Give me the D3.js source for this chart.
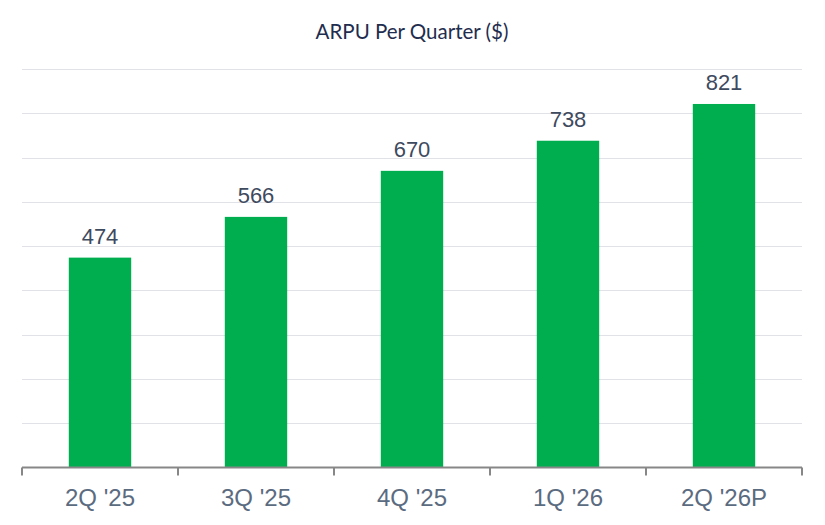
<!DOCTYPE html>
<html>
<head>
<meta charset="utf-8">
<script src="https://cdn.jsdelivr.net/npm/d3@7"></script>
<style>
  html, body { margin: 0; padding: 0; background: #fff; }
  svg { display: block; }
</style>
</head>
<body>
<svg id="chart" width="825" height="525"></svg>
<script>
const categories = ["2Q '25", "3Q '25", "4Q '25", "1Q '26", "2Q '26P"];
const values = [474, 566, 670, 738, 821];
const gridTicks = [100, 200, 300, 400, 500, 600, 700, 800, 900];
const title = "ARPU Per Quarter ($)";

const svg = d3.select("#chart");
const margin = { left: 22, right: 23, top: 69, bottom: 57.5 };
const W = 825, H = 525;

const x = d3.scaleBand().domain(categories)
  .range([margin.left, W - margin.right]).paddingInner(0.6).paddingOuter(0.3);
const y = d3.scaleLinear().domain([0, 900]).range([H - margin.bottom, margin.top]);

svg.append("text")
  .attr("x", 412).attr("y", 39)
  .attr("text-anchor", "middle")
  .attr("font-family", "Lato, 'Open Sans', sans-serif")
  .attr("font-size", 20.5)
  .attr("fill", "#1f2d4e")
  .text(title);

svg.append("g").selectAll("line").data(gridTicks).join("line")
  .attr("x1", margin.left).attr("x2", W - margin.right)
  .attr("y1", d => Math.round(y(d)) + 0.5).attr("y2", d => Math.round(y(d)) + 0.5)
  .attr("stroke", "#e1e1e8").attr("stroke-width", 1);

svg.append("g").selectAll("rect").data(values).join("rect")
  .attr("x", (d, i) => x(categories[i]))
  .attr("width", x.bandwidth())
  .attr("y", d => y(d))
  .attr("height", d => y(0) - y(d))
  .attr("fill", "#00ae4f");

svg.append("g").selectAll("text").data(values).join("text")
  .attr("x", (d, i) => x(categories[i]) + x.bandwidth() / 2)
  .attr("y", d => y(d) - 14)
  .attr("text-anchor", "middle")
  .attr("font-family", "'Liberation Sans', Arial, sans-serif")
  .attr("font-size", 22)
  .attr("fill", "#3e4a5e")
  .text(d => d);

// axis
const axisY = y(0);
const g = svg.append("g");
g.append("line")
  .attr("x1", margin.left).attr("x2", W - margin.right)
  .attr("y1", axisY).attr("y2", axisY)
  .attr("stroke", "#878787").attr("stroke-width", 2);
const tickXs = d3.range(categories.length + 1).map(i => margin.left + i * (W - margin.left - margin.right) / categories.length);
g.selectAll("line.tick").data(tickXs).join("line")
  .attr("class", "tick")
  .attr("x1", d => d).attr("x2", d => d)
  .attr("y1", axisY).attr("y2", axisY + 8)
  .attr("stroke", "#878787").attr("stroke-width", 2);
g.selectAll("text").data(categories).join("text")
  .attr("x", d => x(d) + x.bandwidth() / 2)
  .attr("y", 506)
  .attr("text-anchor", "middle")
  .attr("font-family", "'Liberation Sans', Arial, sans-serif")
  .attr("font-size", 24)
  .attr("fill", "#5b6b80")
  .text(d => d);
</script>
</body>
</html>
